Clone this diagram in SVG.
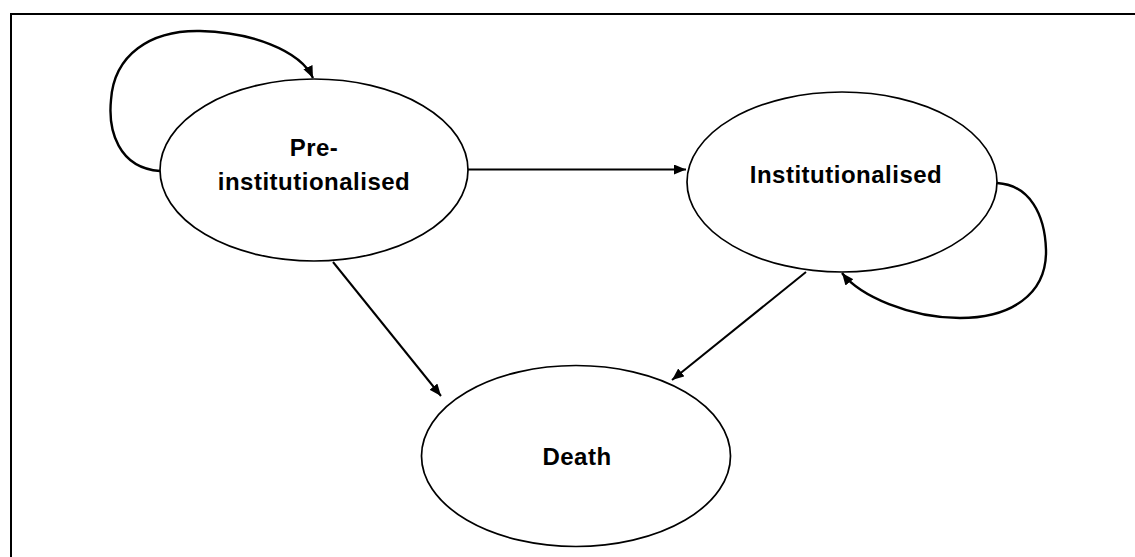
<svg xmlns="http://www.w3.org/2000/svg" width="1135" height="557" viewBox="0 0 1135 557">
<style>
.node{fill:#fff;stroke:#000;stroke-width:1.7}
.lbl{font-family:"Liberation Sans",Arial,sans-serif;font-weight:bold;font-size:24px;fill:#000;text-anchor:middle;letter-spacing:0.5px}
.edge{fill:none;stroke:#000;stroke-width:2;marker-end:url(#arr)}
.loop{stroke-width:2.4}
.frame{fill:none;stroke:#000;stroke-width:2}
</style>
<defs>
<marker id="arr" markerUnits="userSpaceOnUse" markerWidth="14" markerHeight="12" refX="12" refY="5" orient="auto">
<path d="M0,0 L12,5 L0,10 z" fill="#000"/>
</marker>
</defs>
<rect width="1135" height="557" fill="#fff"/>
<path class="frame" d="M11,557 L11,14 L1135,14"/>
<g id="pre-institutionalised">
<ellipse class="node" cx="314" cy="170" rx="154" ry="91"/>
<text class="lbl" x="314" y="156">Pre-</text>
<text class="lbl" x="314" y="190">institutionalised</text>
</g>
<g id="institutionalised">
<ellipse class="node" cx="842" cy="182" rx="155" ry="90"/>
<text class="lbl" x="846" y="183">Institutionalised</text>
</g>
<g id="death">
<ellipse class="node" cx="576" cy="456" rx="154.5" ry="90.5"/>
<text class="lbl" x="577" y="465">Death</text>
</g>
<g id="connectors">
<path class="edge" d="M468,169.5 L686,169.5"/>
<path class="edge" d="M333,262 L441,396"/>
<path class="edge" d="M806,272 L672,380"/>
<path class="edge loop" d="M160,171 C118,168 108,130 111,100 C114,55 150,30 200,31 C250,32 300,50 313,78"/>
<path class="edge loop" d="M997,183 C1030,185 1045,215 1046,250 C1047,295 1010,318 960,318 C910,318 860,296 842,273"/>
</g>
</svg>
